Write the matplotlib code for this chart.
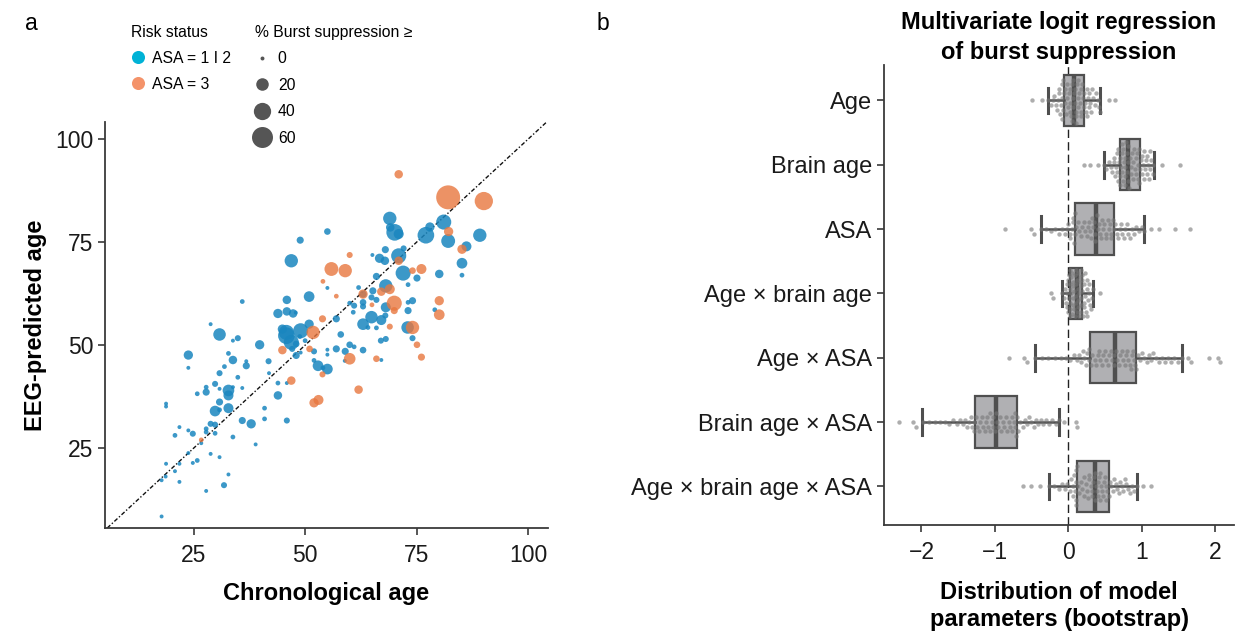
"""Brain age vs chronological age (a) and bootstrap logit coefficients (b)."""

import matplotlib
matplotlib.use("Agg")
import matplotlib.pyplot as plt
import numpy as np
from matplotlib.lines import Line2D

plt.rcParams["font.family"] = ["Liberation Sans", "DejaVu Sans"]

# ---- panel a: one point per patient --------------------------------------
# ASA = 1 | 2
chron_low = [
    69.0, 69.1, 70.1, 71.0, 78.0, 77.1, 81.1, 82.1, 89.2, 86.2,
    85.2, 85.2, 80.1, 75.1, 73.1, 72.0, 72.1, 71.0, 68.0, 65.1,
    66.7, 67.9, 66.0, 68.1, 65.2, 62.0, 63.0, 63.0, 63.0, 61.0,
    60.0, 68.1, 68.0, 73.1, 74.1, 73.1, 79.1, 64.9, 63.0, 67.1,
    66.0, 73.0, 74.1, 68.1, 67.0, 67.1, 63.0, 61.0, 60.0, 59.0,
    58.9, 57.0, 58.0, 57.0, 55.0, 55.0, 48.9, 46.9, 50.9, 45.9,
    43.9, 45.9, 47.3, 47.9, 44.9, 45.8, 49.0, 50.9, 46.9, 45.8,
    48.0, 48.8, 50.0, 52.0, 48.0, 49.0, 55.0, 55.0, 52.0, 52.9,
    55.0, 54.0, 39.8, 41.8, 41.9, 43.9, 45.9, 43.9, 45.9, 40.9,
    40.9, 38.9, 37.9, 35.9, 36.8, 36.8, 34.9, 35.9, 35.9, 34.9,
    33.8, 33.8, 32.8, 31.9, 30.8, 28.8, 30.8, 29.8, 27.8, 27.8,
    25.8, 30.8, 32.8, 32.8, 33.8, 32.8, 30.8, 29.8, 28.8, 29.8,
    27.8, 27.8, 29.8, 24.8, 23.8, 21.8, 20.8, 33.8, 30.8, 28.8,
    25.8, 24.8, 23.8, 26.7, 21.8, 20.8, 18.8, 18.7, 17.8, 21.8,
    18.8, 18.8, 23.8, 23.8, 32.8, 31.8, 27.8, 17.8, 64.1, 60.8,
    66.0, 64.9, 47.1, 30.8,
]
pred_low = [
    80.8, 78.6, 77.4, 77.0, 78.7, 76.7, 79.9, 75.3, 76.7, 74.0,
    69.9, 67.0, 67.3, 66.3, 64.7, 67.5, 73.5, 71.7, 73.2, 71.9,
    71.1, 70.5, 66.7, 64.4, 63.2, 64.0, 62.4, 60.4, 59.4, 59.6,
    60.2, 59.2, 57.2, 58.4, 60.8, 60.4, 58.6, 56.8, 55.1, 56.1,
    54.2, 54.3, 51.7, 51.5, 51.1, 46.4, 48.8, 49.6, 50.1, 48.5,
    46.2, 49.1, 52.6, 56.4, 63.9, 77.6, 75.5, 70.5, 61.8, 61.0,
    57.7, 58.2, 57.7, 57.9, 53.9, 53.1, 53.5, 55.1, 50.7, 52.3,
    50.3, 52.1, 51.1, 48.5, 47.5, 48.2, 48.9, 47.7, 46.3, 45.0,
    44.2, 44.5, 50.1, 46.1, 43.2, 40.8, 40.8, 37.8, 31.7, 34.7,
    32.1, 25.9, 30.9, 31.7, 45.0, 46.1, 42.2, 39.6, 60.6, 51.7,
    51.1, 46.4, 48.0, 44.8, 52.6, 55.1, 43.2, 40.6, 39.8, 38.6,
    38.2, 39.4, 39.0, 37.8, 39.8, 34.7, 36.2, 34.0, 30.9, 30.7,
    29.7, 28.9, 28.6, 28.5, 29.3, 30.1, 28.1, 27.7, 22.8, 23.6,
    22.0, 21.4, 23.8, 26.2, 21.2, 19.4, 21.2, 18.1, 17.2, 16.8,
    35.8, 35.1, 47.6, 44.5, 18.6, 16.0, 14.6, 8.4, 54.3, 58.0,
    61.0, 61.6, 49.1, 34.3,
]
burst_low = [
    23, 8, 37, 12, 10, 37, 30, 25, 23, 12,
    14, 1, 8, 5, 1, 30, 3, 30, 5, 0,
    10, 8, 5, 23, 5, 1, 5, 4, 3, 3,
    1, 12, 3, 5, 5, 1, 1, 20, 17, 12,
    1, 20, 3, 3, 3, 0, 4, 1, 4, 5,
    0, 5, 4, 5, 0, 4, 5, 23, 14, 8,
    10, 8, 8, 0, 10, 30, 30, 10, 30, 37,
    4, 1, 1, 3, 5, 0, 0, 0, 1, 14,
    14, 1, 10, 3, 0, 1, 0, 8, 3, 1,
    1, 0, 10, 5, 5, 0, 1, 0, 1, 3,
    0, 8, 1, 1, 20, 0, 3, 3, 1, 5,
    1, 0, 17, 12, 0, 12, 5, 14, 3, 3,
    1, 1, 1, 3, 0, 0, 1, 1, 0, 0,
    1, 0, 0, 0, 0, 0, 0, 0, 0, 0,
    0, 0, 10, 0, 0, 3, 0, 0, 1, 1,
    3, 3, 3, 1,
]

# ASA = 3
chron_high = [
    71.0, 82.1, 90.1, 82.2, 60.0, 55.9, 59.0, 54.0, 71.0, 76.1,
    74.1, 85.2, 63.0, 57.0, 67.1, 69.0, 65.0, 70.0, 70.0, 80.1,
    80.1, 74.1, 69.0, 75.1, 76.1, 66.0, 60.0, 53.9, 51.8, 51.0,
    44.9, 53.9, 46.9, 62.0, 52.0, 53.0, 26.7,
]
pred_high = [
    91.5, 85.9, 85.0, 77.6, 71.9, 68.5, 68.1, 65.5, 70.5, 68.5,
    68.1, 73.3, 62.4, 61.9, 63.0, 63.6, 59.8, 60.2, 58.4, 60.8,
    57.4, 54.3, 54.5, 50.1, 47.1, 46.7, 46.7, 56.4, 53.1, 49.1,
    48.8, 42.9, 41.4, 39.2, 36.0, 36.7, 27.0,
]
burst_high = [
    8, 79, 45, 10, 3, 25, 23, 1, 8, 12,
    4, 10, 10, 1, 8, 12, 1, 30, 5, 10,
    14, 23, 3, 4, 5, 4, 17, 5, 23, 4,
    8, 3, 8, 8, 10, 12, 1,
]

burst_legend = [0, 20, 40, 60]
age_ticks = [25, 50, 75, 100]

# ---- panel b: bootstrap distribution of each coefficient -------------------
terms = ["Age", "Brain age", "ASA", "Age \u00d7 brain age", "Age \u00d7 ASA",
         "Brain age \u00d7 ASA", "Age \u00d7 brain age \u00d7 ASA"]
box_lo = [-0.28, 0.485, -0.376, -0.086, -0.455, -1.986, -0.26]
box_q1 = [-0.06, 0.71, 0.095, 0.03, 0.295, -1.274, 0.12]
box_med = [0.08, 0.82, 0.376, 0.12, 0.635, -0.99, 0.36]
box_q3 = [0.21, 0.98, 0.62, 0.195, 0.93, -0.694, 0.55]
box_hi = [0.435, 1.165, 1.04, 0.345, 1.55, -0.127, 0.94]

boot_age = [
    -0.28, -0.24, -0.21, -0.19, -0.17, -0.15, -0.14, -0.13, -0.12, -0.11, -0.10, -0.09,
    -0.09, -0.08, -0.07, -0.07, -0.06, -0.05, -0.04, -0.03, -0.02, -0.01, 0.00, 0.01,
    0.02, 0.03, 0.03, 0.04, 0.05, 0.05, 0.06, 0.07, 0.07, 0.08, 0.09, 0.09, 0.10, 0.11,
    0.11, 0.12, 0.13, 0.14, 0.14, 0.15, 0.16, 0.17, 0.18, 0.18, 0.19, 0.20, 0.21, 0.22,
    0.23, 0.24, 0.25, 0.26, 0.27, 0.28, 0.29, 0.30, 0.31, 0.33, 0.34, 0.36, 0.38, 0.40,
    0.42, 0.43, -0.49, -0.36, 0.56, 0.64,
]
boot_brain = [
    0.49, 0.52, 0.55, 0.58, 0.60, 0.62, 0.63, 0.64, 0.65, 0.66, 0.67, 0.68, 0.68, 0.69,
    0.70, 0.70, 0.71, 0.72, 0.73, 0.73, 0.74, 0.75, 0.75, 0.76, 0.77, 0.77, 0.78, 0.78,
    0.79, 0.80, 0.80, 0.81, 0.81, 0.82, 0.83, 0.84, 0.85, 0.86, 0.87, 0.88, 0.89, 0.90,
    0.91, 0.92, 0.93, 0.94, 0.95, 0.95, 0.96, 0.97, 0.98, 0.99, 1.00, 1.01, 1.02, 1.03,
    1.04, 1.05, 1.06, 1.07, 1.08, 1.09, 1.10, 1.11, 1.12, 1.13, 1.15, 1.16,
    0.22, 0.30, 0.41, 1.28, 1.53,
]
boot_asa = [
    -0.37, -0.30, -0.24, -0.18, -0.13, -0.09, -0.05, -0.02, 0.00, 0.02, 0.03, 0.05,
    0.06, 0.07, 0.08, 0.09, 0.09, 0.11, 0.13, 0.15, 0.17, 0.19, 0.21, 0.23, 0.25, 0.27,
    0.28, 0.30, 0.31, 0.33, 0.34, 0.35, 0.36, 0.37, 0.39, 0.40, 0.42, 0.43, 0.45, 0.46,
    0.48, 0.49, 0.51, 0.52, 0.54, 0.55, 0.57, 0.58, 0.59, 0.61, 0.62, 0.64, 0.66, 0.68,
    0.70, 0.72, 0.74, 0.76, 0.78, 0.80, 0.82, 0.84, 0.87, 0.90, 0.93, 0.96, 1.00, 1.04,
    -0.86, -0.50, -0.47, 1.13, 1.24, 1.46, 1.66,
]
boot_age_brain = [
    -0.08, -0.06, -0.04, -0.03, -0.02, -0.01, -0.01, 0.00, 0.00, 0.01, 0.01, 0.02,
    0.02, 0.02, 0.03, 0.03, 0.03, 0.04, 0.04, 0.05, 0.05, 0.06, 0.06, 0.07, 0.07, 0.08,
    0.08, 0.09, 0.09, 0.10, 0.10, 0.11, 0.11, 0.12, 0.12, 0.13, 0.13, 0.14, 0.14, 0.15,
    0.15, 0.16, 0.16, 0.17, 0.17, 0.18, 0.18, 0.18, 0.19, 0.19, 0.19, 0.20, 0.21, 0.21,
    0.22, 0.23, 0.23, 0.24, 0.25, 0.26, 0.26, 0.27, 0.28, 0.29, 0.30, 0.31, 0.33, 0.34,
    -0.23, -0.20, 0.44,
]
boot_age_asa = [
    -0.45, -0.36, -0.27, -0.18, -0.10, -0.03, 0.03, 0.08, 0.12, 0.15, 0.18, 0.20,
    0.22, 0.24, 0.26, 0.28, 0.29, 0.31, 0.33, 0.36, 0.38, 0.40, 0.42, 0.44, 0.46, 0.48,
    0.50, 0.52, 0.54, 0.56, 0.58, 0.60, 0.62, 0.63, 0.65, 0.67, 0.69, 0.71, 0.73, 0.75,
    0.77, 0.79, 0.80, 0.82, 0.84, 0.85, 0.87, 0.88, 0.90, 0.91, 0.93, 0.95, 0.98, 1.01,
    1.04, 1.07, 1.10, 1.13, 1.16, 1.20, 1.24, 1.28, 1.32, 1.36, 1.40, 1.44, 1.49, 1.55,
    -0.80, -0.60, -0.56, 1.63, 1.67, 1.92, 2.04, 2.07,
]
boot_brain_asa = [
    -1.98, -1.90, -1.82, -1.75, -1.68, -1.62, -1.57, -1.52, -1.48, -1.44, -1.41, -1.38,
    -1.35, -1.33, -1.31, -1.29, -1.28, -1.26, -1.24, -1.22, -1.20, -1.18, -1.16, -1.14,
    -1.12, -1.10, -1.09, -1.07, -1.06, -1.04, -1.03, -1.02, -1.00, -0.99, -0.97, -0.95,
    -0.93, -0.91, -0.89, -0.87, -0.85, -0.83, -0.81, -0.79, -0.77, -0.76, -0.74, -0.73,
    -0.72, -0.71, -0.70, -0.68, -0.65, -0.62, -0.59, -0.56, -0.53, -0.50, -0.47, -0.44,
    -0.41, -0.37, -0.34, -0.30, -0.26, -0.22, -0.17, -0.13,
    -2.30, -2.11, -2.07, -0.054, 0.10, 0.12,
]
boot_three_way = [
    -0.26, -0.19, -0.13, -0.08, -0.04, -0.01, 0.02, 0.04, 0.06, 0.07, 0.08, 0.09,
    0.10, 0.10, 0.11, 0.11, 0.12, 0.13, 0.15, 0.17, 0.19, 0.21, 0.22, 0.24, 0.25, 0.27,
    0.28, 0.29, 0.31, 0.32, 0.33, 0.34, 0.35, 0.36, 0.37, 0.38, 0.39, 0.40, 0.41, 0.42,
    0.43, 0.44, 0.45, 0.46, 0.47, 0.49, 0.50, 0.51, 0.52, 0.53, 0.55, 0.57, 0.59, 0.61,
    0.63, 0.65, 0.67, 0.69, 0.71, 0.73, 0.75, 0.77, 0.79, 0.81, 0.84, 0.87, 0.90, 0.94,
    -0.62, -0.51, -0.39, 1.02, 1.13,
]
boot_samples = [boot_age, boot_brain, boot_asa, boot_age_brain,
                boot_age_asa, boot_brain_asa, boot_three_way]
coef_ticks = [-2, -1, 0, 1, 2]

# ---- style ----------------------------------------------------------------
BLUE, ORANGE = "#1a86bf", "#e8773f"
BLUE_KEY, ORANGE_KEY = "#00b2d6", "#f4936a"
DARK = "#3a3a3a"
BOX_EDGE, BOX_FACE, DOT = "#4f4f4f", "#b0b0b3", "#777777"
TICK_FS, LABEL_FS, LEG_FS = 16.5, 17, 11.3


def marker_area(pct):
    """Scatter marker area (pt^2) for a burst-suppression percentage."""
    return 8 + 3.67 * np.asarray(pct, dtype=float)


def style_axes(ax):
    for side in ("top", "right"):
        ax.spines[side].set_visible(False)
    for side in ("left", "bottom"):
        ax.spines[side].set_color(DARK)
        ax.spines[side].set_linewidth(1.3)
    ax.tick_params(direction="out", length=5, width=1.2, color=DARK,
                   labelsize=TICK_FS, labelcolor="#1a1a1a")
    ax.tick_params(axis="x", pad=6.5)


def swarm_offsets(ax, values, row, half_width, min_px):
    """Beeswarm-style vertical offsets (data units) so dots do not pile up."""
    trans = ax.transData
    xs = trans.transform(np.column_stack([values, np.full(len(values), row)]))[:, 0]
    px_per_unit = abs(trans.transform((0, 1))[1] - trans.transform((0, 0))[1])
    max_off = half_width * px_per_unit
    step = min_px * 0.5
    cands = [0.0]
    k = 1
    while k * step <= max_off:
        cands += [k * step, -k * step]
        k += 1
    placed = []
    offs = np.zeros(len(values))
    for i in np.argsort(xs):
        near = [(px, py) for px, py in placed if abs(px - xs[i]) < min_px]
        best, best_gap = 0.0, -1.0
        for c in cands:
            gap = min([np.hypot(px - xs[i], py - c) for px, py in near] or [np.inf])
            if gap >= min_px:
                best = c
                break
            if gap > best_gap:
                best, best_gap = c, gap
        placed.append((xs[i], best))
        offs[i] = best / px_per_unit
    return offs


fig = plt.figure(figsize=(12.37, 6.31), dpi=100)

# ---- panel a --------------------------------------------------------------
ax1 = fig.add_axes([105 / 1237, 1 - 528 / 631, 443 / 1237, 406 / 631])
ax1.scatter(chron_low, pred_low, s=marker_area(burst_low), color=BLUE,
            alpha=0.85, linewidths=0, zorder=3)
ax1.scatter(chron_high, pred_high, s=marker_area(burst_high), color=ORANGE,
            alpha=0.8, linewidths=0, zorder=3)
ax1.set_xlim(5.1, 104.5)
ax1.set_ylim(5.6, 104.2)
ax1.axline((0, 0), slope=1, color="#111111", lw=1.0,
           ls=(0, (3, 1.5, 1, 1.5)), zorder=2)
ax1.set_xticks(age_ticks)
ax1.set_yticks(age_ticks)
style_axes(ax1)
ax1.set_xlabel("Chronological age", fontsize=LABEL_FS, fontweight="bold", labelpad=11)
ax1.set_ylabel("EEG-predicted age", fontsize=LABEL_FS, fontweight="bold", labelpad=6)

risk_handles = [
    Line2D([], [], ls="", marker="o", markersize=9.4, color=BLUE_KEY, mew=0),
    Line2D([], [], ls="", marker="o", markersize=9.4, color=ORANGE_KEY, mew=0),
]
leg1 = ax1.legend(risk_handles, ["ASA = 1 I 2", "ASA = 3"], title="Risk status",
                  loc="upper left", bbox_to_anchor=(131 / 1237, 1 - 25 / 631),
                  bbox_transform=fig.transFigure, frameon=False, fontsize=LEG_FS,
                  title_fontsize=LEG_FS, alignment="left", borderpad=0,
                  borderaxespad=0, handlelength=0.9, handletextpad=0.45,
                  labelspacing=0.7)
ax1.add_artist(leg1)
size_handles = [Line2D([], [], ls="", marker="o", markersize=np.sqrt(marker_area(p)),
                       color="#555555", mew=0) for p in burst_legend]
ax1.legend(size_handles, [str(p) for p in burst_legend],
           title="% Burst suppression \u2265", loc="upper left",
           bbox_to_anchor=(255 / 1237, 1 - 25 / 631), bbox_transform=fig.transFigure,
           frameon=False, fontsize=LEG_FS, title_fontsize=LEG_FS, alignment="left",
           borderpad=0, borderaxespad=0, handlelength=0.9, handletextpad=0.55,
           labelspacing=0.73)

fig.text(25 / 1237, 1 - 30 / 631, "a", fontsize=16.5, ha="left", va="baseline")
fig.text(597 / 1237, 1 - 30 / 631, "b", fontsize=16.5, ha="left", va="baseline")

# ---- panel b --------------------------------------------------------------
ax2 = fig.add_axes([884 / 1237, 1 - 525 / 631, 350 / 1237, 460 / 631])
ax2.set_xlim(-2.51, 2.26)
ax2.set_ylim(6.6, -0.55)
rows = np.arange(len(terms))
stats = [dict(med=m, q1=a, q3=b, whislo=lo, whishi=hi, fliers=[])
         for m, a, b, lo, hi in zip(box_med, box_q1, box_q3, box_lo, box_hi)]
ax2.bxp(stats, positions=rows, widths=0.8, orientation="horizontal",
        patch_artist=True, showfliers=False, capwidths=0.4,
        boxprops=dict(facecolor=BOX_FACE, edgecolor=BOX_EDGE, linewidth=1.6),
        medianprops=dict(color=BOX_EDGE, linewidth=3.2, solid_capstyle="butt"),
        whiskerprops=dict(color=BOX_EDGE, linewidth=1.8),
        capprops=dict(color=BOX_EDGE, linewidth=2.2),
        zorder=2)
for row, vals in zip(rows, boot_samples):
    offs = swarm_offsets(ax2, vals, row, half_width=0.36, min_px=4.6)
    ax2.scatter(vals, row + offs, s=10, color=DOT, alpha=0.6, linewidths=0, zorder=3)
ax2.axvline(0, color="#222222", lw=1.0, ls=(0, (6, 3)), zorder=1)
ax2.set_yticks(rows, terms)
ax2.set_xticks(coef_ticks, [f"{t:d}".replace("-", "\u2212") for t in coef_ticks])
style_axes(ax2)
ax2.tick_params(axis="y", labelsize=LABEL_FS)
ax2.set_xlabel("Distribution of model\nparameters (bootstrap)", fontsize=LABEL_FS,
               fontweight="bold", labelpad=12, linespacing=1.25)
ax2.set_title("Multivariate logit regression\nof burst suppression", fontsize=17,
              fontweight="bold", pad=4, linespacing=1.4)

fig.savefig("out.png", dpi=100)
